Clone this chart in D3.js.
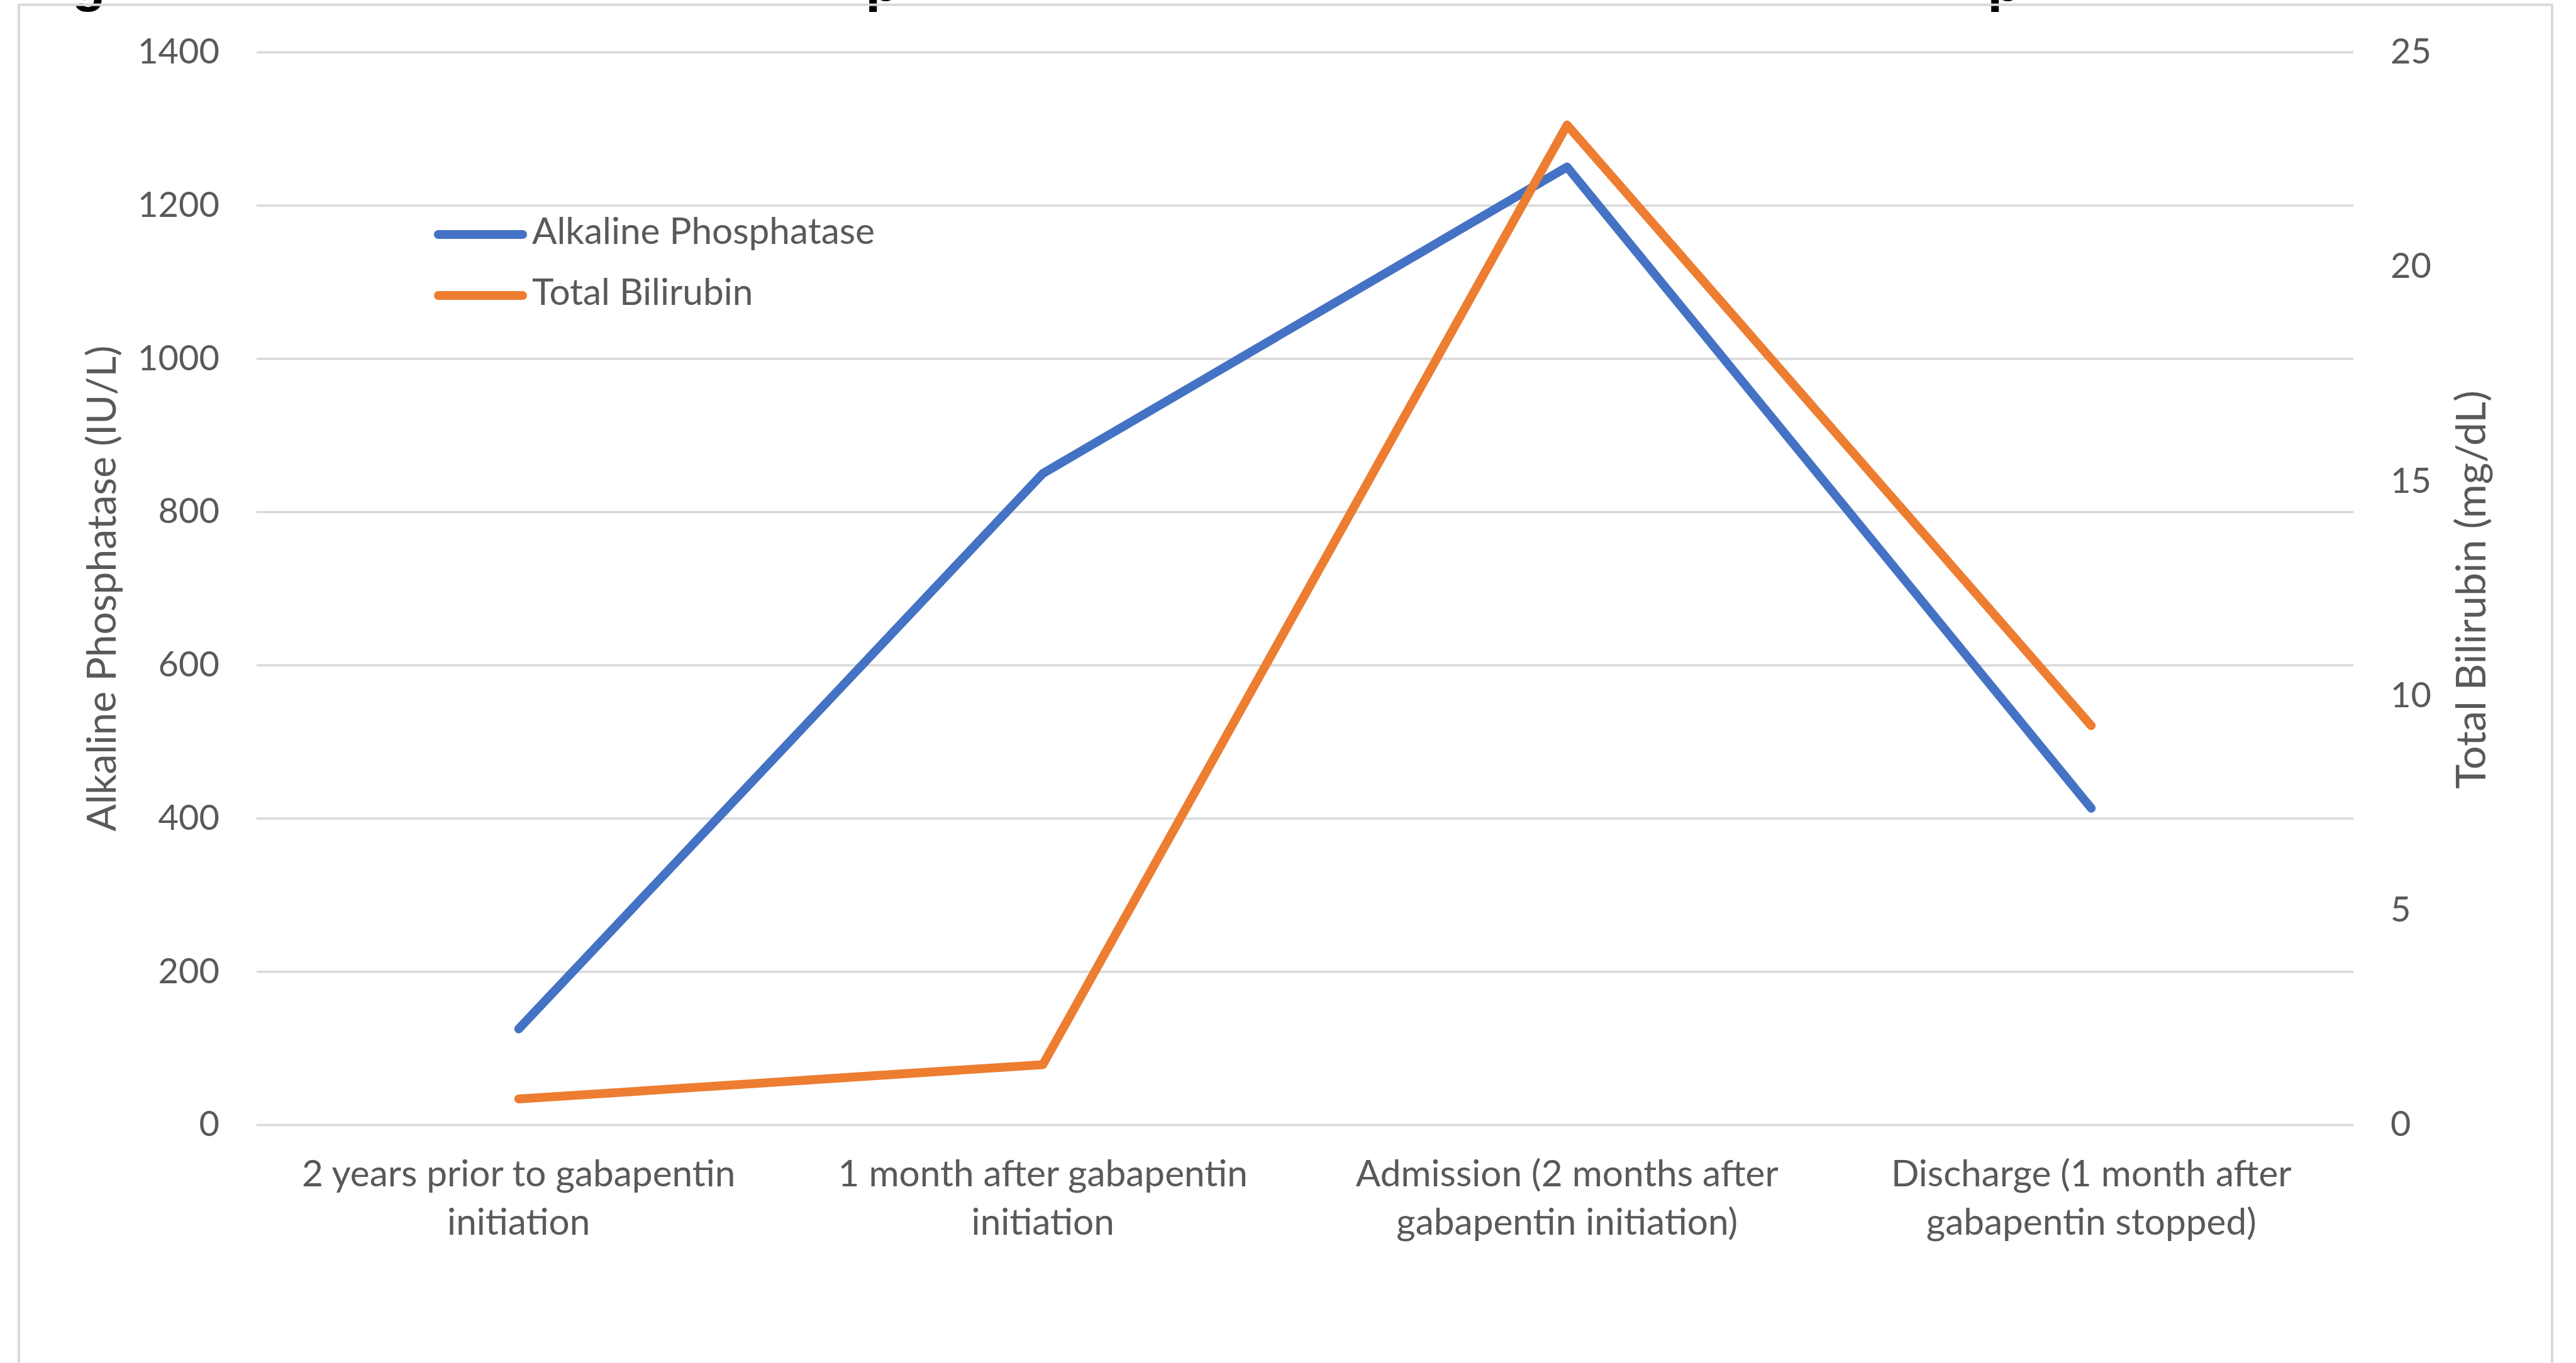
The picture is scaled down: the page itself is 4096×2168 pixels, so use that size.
<!DOCTYPE html>
<html><head><meta charset="utf-8">
<script src="https://cdn.jsdelivr.net/npm/d3@7"></script>
<style>
html,body{margin:0;padding:0;background:#fff;overflow:hidden}
text{font-family:Lato,"Open Sans",sans-serif}
</style>
</head><body>
<svg id="chart" width="4096" height="2168"></svg>
<script>
// ---- data ----
const categories = [
  "2 years prior to gabapentin initiation",
  "1 month after gabapentin initiation",
  "Admission (2 months after gabapentin initiation)",
  "Discharge (1 month after gabapentin stopped)"
];
const categoryLines = [
  ["2 years prior to gabapentin", "initiation"],
  ["1 month after gabapentin", "initiation"],
  ["Admission (2 months after", "gabapentin initiation)"],
  ["Discharge (1 month after", "gabapentin stopped)"]
];
const alkalinePhosphatase = [125, 850, 1250, 413];
const totalBilirubin = [0.6, 1.4, 23.3, 9.3];
const leftTicks = [0, 200, 400, 600, 800, 1000, 1200, 1400];
const rightTicks = [0, 5, 10, 15, 20, 25];
const seriesNames = ["Alkaline Phosphatase", "Total Bilirubin"];
const leftTitle = "Alkaline Phosphatase (IU/L)";
const rightTitle = "Total Bilirubin (mg/dL)";
const titleFragments = ["g", "p", "p"];

// ---- layout ----
const W = 4096, H = 2168;
const plot = {left: 408, right: 3742, top: 82.8, bottom: 1789};
const colors = ["#4472C4", "#ED7D31"];
const textColor = "#595959";
const gridColor = "#D9D9D9";

const svg = d3.select("#chart");
svg.append("rect").attr("width", W).attr("height", H).attr("fill", "#fff");

// title fragments (descenders of a title line cut off at the top edge, as in the reference)
const fragX = [114, 1376, 3160];
svg.selectAll("text.frag").data(titleFragments).join("text")
  .attr("class", "frag")
  .attr("x", (d, i) => fragX[i]).attr("y", 1)
  .attr("font-size", 88).attr("font-weight", 700).attr("fill", "#000")
  .style("font-family", "'Liberation Sans',Arial,sans-serif")
  .text(d => d);

// chart frame
svg.append("rect")
  .attr("x", 30).attr("y", 7.6).attr("width", 4058 - 30).attr("height", 2300)
  .attr("fill", "none").attr("stroke", gridColor).attr("stroke-width", 4);

const x = d3.scalePoint().domain(categories).range([plot.left, plot.right]).padding(0.5);
const yL = d3.scaleLinear().domain([0, 1400]).range([plot.bottom, plot.top]);
const yR = d3.scaleLinear().domain([0, 25]).range([plot.bottom, plot.top]);

// left axis with gridlines
const gL = svg.append("g").attr("transform", `translate(${plot.left},0)`)
  .call(d3.axisLeft(yL).tickValues(leftTicks).tickSizeInner(-(plot.right - plot.left)).tickSizeOuter(0).tickPadding(59).tickFormat(d3.format("d")));
gL.select(".domain").remove();
gL.selectAll(".tick line").attr("stroke", gridColor).attr("stroke-width", 3.4);
gL.selectAll(".tick text").attr("fill", textColor).attr("font-size", 56).style("font-family", "Lato");

// right axis
const gR = svg.append("g").attr("transform", `translate(${plot.right},0)`)
  .call(d3.axisRight(yR).tickValues(rightTicks).tickSize(0).tickPadding(59).tickFormat(d3.format("d")));
gR.select(".domain").remove();
gR.selectAll(".tick text").attr("fill", textColor).attr("font-size", 56).style("font-family", "Lato");

// category labels
const cat = svg.append("g").selectAll("text").data(categories).join("text")
  .attr("text-anchor", "middle").attr("fill", textColor).attr("font-size", 58.5)
  .attr("transform", d => `translate(${x(d)},0)`);
cat.each(function (d, i) {
  const t = d3.select(this);
  categoryLines[i].forEach((ln, j) => {
    t.append("tspan").attr("x", 0).attr("y", 1887 + j * 77).text(ln);
  });
});

// axis titles
svg.append("text").attr("transform", `translate(184,936) rotate(-90)`)
  .attr("text-anchor", "middle").attr("fill", textColor).attr("font-size", 64).text(leftTitle);
svg.append("text").attr("transform", `translate(3952,938) rotate(-90)`)
  .attr("text-anchor", "middle").attr("fill", textColor).attr("font-size", 66).text(rightTitle);

// series lines
const lineL = d3.line().x((d, i) => x(categories[i])).y(d => yL(d));
const lineR = d3.line().x((d, i) => x(categories[i])).y(d => yR(d));
svg.append("path").datum(alkalinePhosphatase).attr("d", lineL)
  .attr("fill", "none").attr("stroke", colors[0]).attr("stroke-width", 14)
  .attr("stroke-linecap", "round").attr("stroke-linejoin", "round");
svg.append("path").datum(totalBilirubin).attr("d", lineR)
  .attr("fill", "none").attr("stroke", colors[1]).attr("stroke-width", 14)
  .attr("stroke-linecap", "round").attr("stroke-linejoin", "round");

// legend
const legendY = [373, 470];
const lg = svg.append("g").selectAll("g").data(seriesNames).join("g")
  .attr("transform", (d, i) => `translate(0,${legendY[i]})`);
lg.append("line").attr("x1", 697).attr("x2", 831).attr("y1", 0).attr("y2", 0)
  .attr("stroke", (d, i) => colors[i]).attr("stroke-width", 14).attr("stroke-linecap", "round");
lg.append("text").attr("x", 846).attr("y", 15).attr("fill", textColor).attr("font-size", 58.5).text(d => d);
</script>
</body></html>
